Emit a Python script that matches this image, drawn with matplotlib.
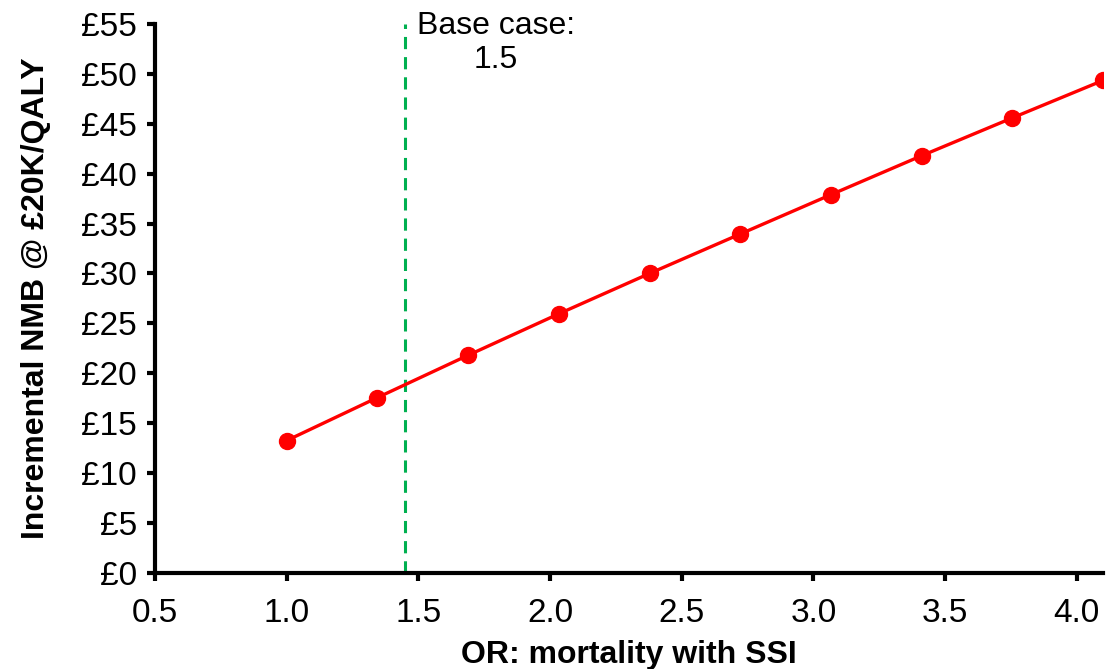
import matplotlib
matplotlib.use('Agg')
import matplotlib.pyplot as plt

# OR values and incremental NMB
odds_ratio = [1.0, 1.344, 1.689, 2.033, 2.378, 2.722, 3.067, 3.411, 3.756, 4.1]
nmb = [13.25, 17.55, 21.8, 25.95, 30.0, 33.95, 37.9, 41.8, 45.6, 49.35]
base_case = 1.45
x_ticks = [0.5, 1.0, 1.5, 2.0, 2.5, 3.0, 3.5, 4.0]
y_ticks = [0, 5, 10, 15, 20, 25, 30, 35, 40, 45, 50, 55]

plt.rcParams['font.family'] = ['Liberation Sans', 'DejaVu Sans']

fig = plt.figure(figsize=(11.08, 6.69), dpi=100)
ax = fig.add_axes([0.140, 0.144, 0.8555, 0.820])

ax.plot(odds_ratio, nmb, color='#ff0000', lw=2.4, marker='o', ms=11.5, zorder=3)
ax.axvline(base_case, color='#00b050', lw=2.2, dashes=(4, 2.6), zorder=2)
ax.text(1.795, 56.3, 'Base case:\n1.5', ha='center', va='top', fontsize=23,
        linespacing=1.15)

ax.set_xlim(0.5, 4.1)
ax.set_ylim(0, 55)
ax.set_xticks(x_ticks)
ax.set_xticklabels(['%.1f' % t for t in x_ticks])
ax.set_yticks(y_ticks)
ax.set_yticklabels(['£%d' % t for t in y_ticks])

for s in ['top', 'right']:
    ax.spines[s].set_visible(False)
for s in ['left', 'bottom']:
    ax.spines[s].set_linewidth(3)
ax.tick_params(width=3, length=6, labelsize=24, direction='out', pad=7)
ax.tick_params(axis='x', pad=12)

ax.set_xlabel('OR: mortality with SSI', fontsize=23, fontweight='bold', labelpad=8)
ax.set_ylabel('Incremental NMB @ £20K/QALY', fontsize=23, fontweight='bold', labelpad=22)

fig.savefig('out.png', dpi=100)
